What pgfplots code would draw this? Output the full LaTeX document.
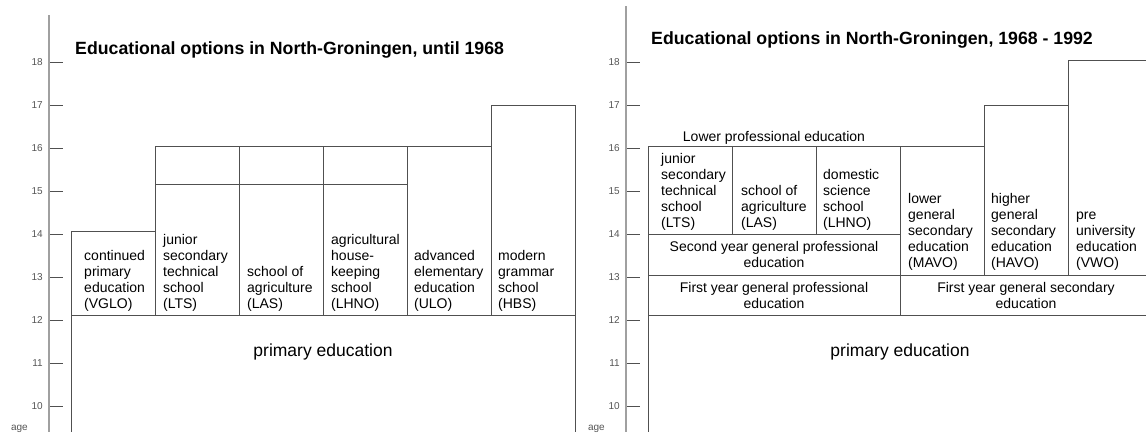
\documentclass[border=0pt]{standalone}
\usepackage{pgfplots}
\pgfplotsset{compat=1.18}
\usepackage{fontspec}
\setmainfont{Liberation Sans}
\definecolor{boxline}{HTML}{505050}
\definecolor{axline}{HTML}{A0A0A0}
\definecolor{ticklab}{HTML}{555555}
\pgfplotsset{
  panel/.style={
    x=84pt, y=43pt,
    xmin=-0.262,
    ymin=9.4,
    axis x line=none,
    axis y line*=left,
    axis line style={color=axline, line width=1.4pt},
    ytick={10,11,...,18},
    tick align=inside,
    major tick length=14pt,
    ytick style={color=boxline, line width=0.9pt},
    yticklabel style={font=\fontsize{10}{12}\selectfont, text=ticklab, inner sep=0pt, xshift=-6pt},
    /pgf/number format/assume math mode=true,
    clip=false,
    unbounded coords=jump,
    anchor=south west,
  },
  boxes/.style={color=boxline, line width=0.9pt, no marks},
}
\tikzset{
  txt/.style={font=\fontsize{14}{16}\selectfont, inner sep=0pt, align=left, anchor=south west, yshift=4pt},
  ctxt/.style={font=\fontsize{14}{16}\selectfont, inner sep=0pt, align=center, anchor=center},
}
\begin{document}
\begin{tikzpicture}
\useasboundingbox (0,0) rectangle (1146pt,435pt);
% ---------------- left panel ----------------
\begin{axis}[panel, at={(49pt,3pt)}, xmax=6.02, ymax=19.09]
\addplot[boxes] coordinates {
 (0,9.4) (0,14.07) (1,14.07) (nan,nan)
 (1,12.1) (1,16.05) (5,16.05) (5,17.0) (6,17.0) (6,9.4) (nan,nan)
 (0,12.1) (6,12.1) (nan,nan)
 (2,12.1) (2,16.05) (nan,nan)
 (3,12.1) (3,16.05) (nan,nan)
 (4,12.1) (4,16.05) (nan,nan)
 (5,12.1) (5,16.05) (nan,nan)
 (1,15.15) (4,15.15)
};
\node[font=\bfseries\fontsize{17.7}{20}\selectfont, anchor=base west, inner sep=0pt] at (axis cs:0.048,18.19) {Educational options in North-Groningen, until 1968};
\node[txt] at (axis cs:0.155,12.1) {continued\\primary\\education\\(VGLO)};
\node[txt] at (axis cs:1.095,12.1) {junior\\secondary\\technical\\school\\(LTS)};
\node[txt] at (axis cs:2.095,12.1) {school of\\agriculture\\(LAS)};
\node[txt] at (axis cs:3.095,12.1) {agricultural\\house-\\keeping\\school\\(LHNO)};
\node[txt] at (axis cs:4.083,12.1) {advanced\\elementary\\education\\(ULO)};
\node[txt] at (axis cs:5.083,12.1) {modern\\grammar\\school\\(HBS)};
\node[font=\fontsize{17.5}{20}\selectfont, inner sep=0pt, anchor=center] at (axis cs:3.0,11.26) {primary education};
\node[font=\fontsize{10}{12}\selectfont, text=ticklab, inner sep=0pt, anchor=base east] at (axis cs:-0.262,9.4) [xshift=-21pt, yshift=1pt] {age};
\end{axis}
% ---------------- right panel ----------------
\begin{axis}[panel, at={(626pt,3pt)}, xmax=5.93, ymax=19.3]
\addplot[boxes] coordinates {
 (0,9.4) (0,16.05) (4,16.05) (4,17.0) (5,17.0) (5,18.05) (6,18.05) (6,9.4) (nan,nan)
 (0,12.1) (6,12.1) (nan,nan)
 (0,13.05) (6,13.05) (nan,nan)
 (0,14.0) (3,14.0) (nan,nan)
 (1,14.0) (1,16.05) (nan,nan)
 (2,14.0) (2,16.05) (nan,nan)
 (3,12.1) (3,16.05) (nan,nan)
 (4,13.05) (4,16.05) (nan,nan)
 (5,13.05) (5,17.0)
};
\node[font=\bfseries\fontsize{17.7}{20}\selectfont, anchor=base west, inner sep=0pt] at (axis cs:0.036,18.40) {Educational options in North-Groningen, 1968 - 1992};
\node[font=\fontsize{14}{16}\selectfont, inner sep=0pt, anchor=base] at (axis cs:1.5,16.05) [yshift=5pt] {Lower professional education};
\node[txt] at (axis cs:0.155,14.0) {junior\\secondary\\technical\\school\\(LTS)};
\node[txt] at (axis cs:1.107,14.0) {school of\\agriculture\\(LAS)};
\node[txt] at (axis cs:2.083,14.0) {domestic\\science\\school\\(LHNO)};
\node[txt] at (axis cs:3.095,13.05) {lower\\general\\secondary\\education\\(MAVO)};
\node[txt] at (axis cs:4.083,13.05) {higher\\general\\secondary\\education\\(HAVO)};
\node[txt] at (axis cs:5.095,13.05) {pre\\university\\education\\(VWO)};
\node[ctxt] at (axis cs:1.5,13.52) {Second year general professional\\education};
\node[ctxt] at (axis cs:1.5,12.575) {First year general professional\\education};
\node[ctxt] at (axis cs:4.5,12.575) {First year general secondary\\education};
\node[font=\fontsize{17.5}{20}\selectfont, inner sep=0pt, anchor=center] at (axis cs:3.0,11.26) {primary education};
\node[font=\fontsize{10}{12}\selectfont, text=ticklab, inner sep=0pt, anchor=base east] at (axis cs:-0.262,9.4) [xshift=-21pt, yshift=1pt] {age};
\end{axis}
\end{tikzpicture}
\end{document}
